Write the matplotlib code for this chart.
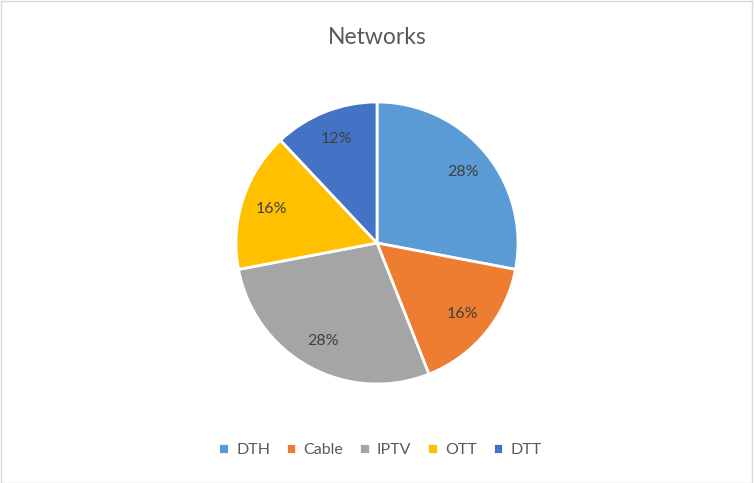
import matplotlib.pyplot as plt
from matplotlib.patches import Rectangle

plt.rcParams['font.family'] = ['Lato', 'DejaVu Sans']

# data
labels = ["DTH", "Cable", "IPTV", "OTT", "DTT"]
values = [28, 16, 28, 16, 12]
colors = ["#5B9BD5", "#ED7D31", "#A5A5A5", "#FFC000", "#4472C4"]

fig = plt.figure(figsize=(7.54, 4.83), dpi=100)

# chart frame
fig.patches.append(Rectangle((0.001, 0.001), 0.997, 0.996, transform=fig.transFigure,
                             fill=False, edgecolor="#D9D9D9", linewidth=1))

ax = fig.add_axes([236 / 754, 99 / 483, 282 / 754, 282 / 483])
wedges, texts, autotexts = ax.pie(
    values, colors=colors, startangle=90, counterclock=False,
    autopct="%1.0f%%", pctdistance=0.79,
    wedgeprops=dict(edgecolor="white", linewidth=2),
    textprops=dict(color="#404040", fontsize=11.5),
)
ax.set_xlim(-1, 1)
ax.set_ylim(-1, 1)
ax.set_aspect("equal")

fig.text(377 / 754, 1 - 37 / 483, "Networks", ha="center", va="center",
         fontsize=16.5, color="#595959")

fig.legend(wedges, labels, loc="center", bbox_to_anchor=(380 / 754, 1 - 450 / 483),
           ncol=5, frameon=False, handlelength=0.65, handleheight=0.65,
           handletextpad=0.45, columnspacing=1.0,
           prop=dict(size=11.5), labelcolor="#595959")

fig.savefig("out.png", dpi=100)
